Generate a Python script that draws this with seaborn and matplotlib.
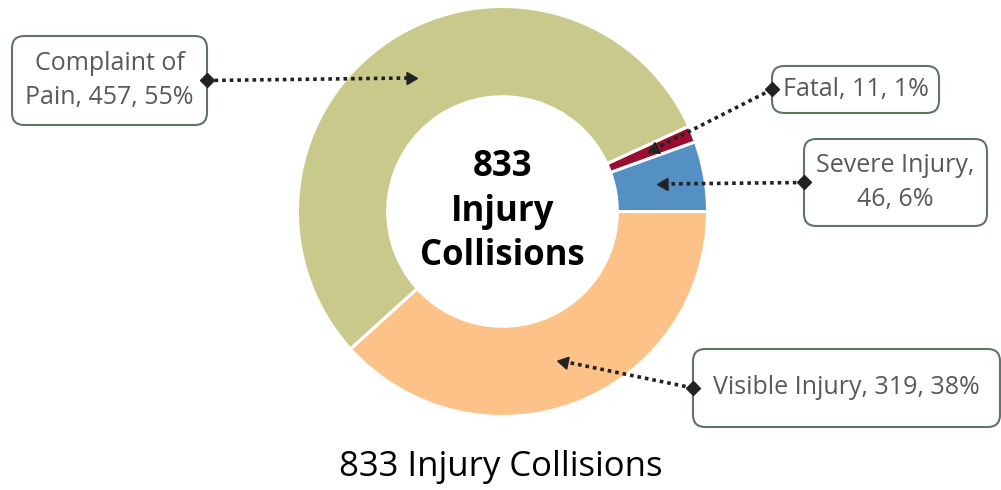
import textwrap
import numpy as np
import matplotlib.pyplot as plt
import seaborn as sns
from matplotlib.patches import FancyBboxPatch

categories = ["Fatal", "Severe Injury", "Visible Injury", "Complaint of Pain"]
collisions = [11, 46, 319, 457]
wrap_widths = [14, 14, 24, 14]
total = sum(collisions)

sns.set_theme(style="white")
plt.rcParams["font.family"] = ["Open Sans", "DejaVu Sans"]

palette = sns.color_palette(["#9B0D30", "#5590C4", "#FDC288", "#C9C98B"])

# figure layout in pixels
W, H = 1001, 490
cx, cy, R = 502.5, 211.5, 205.0

# label boxes (x0, y0, x1, y1) in pixels, arrow leaves from left or right side
boxes = [(772, 66, 939, 113), (804, 139, 987, 226), (693, 349, 1000, 427), (12, 36, 207, 125)]
sides = ["left", "left", "left", "right"]


def px(x, y):
    return (x - cx) / R, (cy - y) / R


fig = plt.figure(figsize=(W / 100, H / 100), dpi=100)
ax = fig.add_axes([0, 0, 1, 1])

wedges, _ = ax.pie(collisions, colors=palette, startangle=24.6, counterclock=False,
                   radius=1, wedgeprops=dict(width=0.44, edgecolor="white", linewidth=2.2))

ax.set_xlim(-cx / R, (W - cx) / R)
ax.set_ylim(-(H - cy) / R, cy / R)
ax.set_aspect("equal")
ax.axis("off")

for w, cat, val, ww, box, side in zip(wedges, categories, collisions, wrap_widths, boxes, sides):
    pct = round(val / total * 100)
    label = textwrap.fill(f"{cat}, {val}, {pct}%", ww)
    x0, y0, x1, y1 = box
    bx0, by1 = px(x0, y0)
    bx1, by0 = px(x1, y1)
    patch = FancyBboxPatch((bx0, by0), bx1 - bx0, by1 - by0,
                           boxstyle="round,pad=0,rounding_size=0.06",
                           facecolor="white", edgecolor="#5E7566", linewidth=1.5, zorder=3)
    ax.add_patch(patch)
    ax.text((bx0 + bx1) / 2, (by0 + by1) / 2, label, ha="center", va="center",
            fontsize=18, color="#595959", linespacing=1.5, zorder=4)

    # arrow to middle of the ring at the wedge's mid angle
    mid = np.deg2rad((w.theta1 + w.theta2) / 2)
    rmid = 1 - 0.44 / 2
    ex, ey = rmid * np.cos(mid), rmid * np.sin(mid)
    sx = bx0 if side == "left" else bx1
    sy = (by0 + by1) / 2
    ang = np.degrees(np.arctan2(ey - sy, ex - sx))
    back = 0.03
    ax.plot([sx, ex - back * np.cos(np.deg2rad(ang))], [sy, ey - back * np.sin(np.deg2rad(ang))],
            color="#222222", lw=2.6, linestyle=(0, (1, 1.1)), zorder=5)
    ax.plot(sx, sy, marker="D", ms=7.5, color="#222222", zorder=6)
    ax.plot(ex - 0.02 * np.cos(np.deg2rad(ang)), ey - 0.02 * np.sin(np.deg2rad(ang)),
            marker=(3, 0, ang - 90), ms=10, color="#222222", zorder=6)

ax.text(0, 0, f"{total}\nInjury\nCollisions", ha="center", va="center",
        fontsize=25, fontweight="bold", color="black", linespacing=1.3)

fig.text(0.5, 1 - 467 / H, f"{total} Injury Collisions", ha="center", va="center",
         fontsize=25, color="black")

fig.savefig("out.png", dpi=100)
